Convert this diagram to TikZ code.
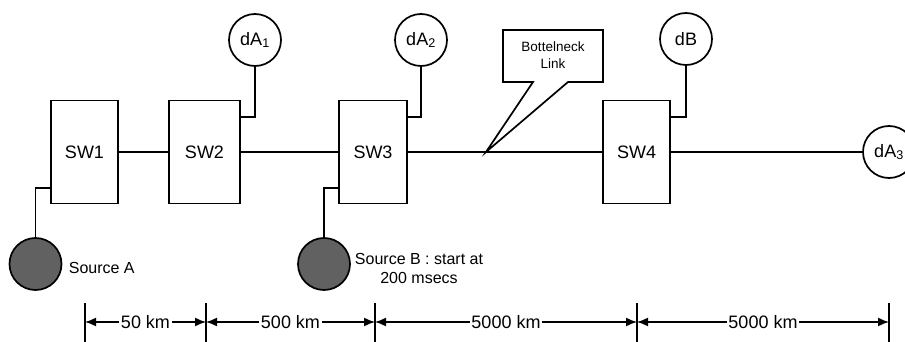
\documentclass[tikz,border=0pt]{standalone}
\usepackage{fontspec}
\setmainfont{Liberation Sans}
\usetikzlibrary{arrows.meta}
\begin{document}
\begin{tikzpicture}[x=1pt,y=-1pt,line width=1.7pt,
  swbox/.style={draw,minimum width=67pt,minimum height=103pt,inner sep=0pt,font=\fontsize{18}{20}\selectfont},
  dest/.style={draw,circle,minimum size=52pt,inner sep=0pt,font=\fontsize{18}{20}\selectfont},
  src/.style={draw,circle,minimum size=52pt,inner sep=0pt,fill=black!62},
  lbl/.style={font=\fontsize{16}{19}\selectfont,inner sep=0pt},
  dimlbl/.style={font=\fontsize{18}{20}\selectfont,fill=white,inner sep=1.5pt},
  dimtick/.style={line width=1.6pt},
  dimline/.style={line width=1.5pt,{Latex[length=11pt,width=9pt]}-{Latex[length=11pt,width=9pt]}}]
\useasboundingbox (0,0) rectangle (905,342);
% switches
\node[swbox] (SW1) at (84.5,152) {SW1};
\node[swbox,minimum width=71pt] (SW2) at (204.5,152) {SW2};
\node[swbox,minimum width=68pt] (SW3) at (373,152) {SW3};
\node[swbox] (SW4) at (636.5,152) {SW4};
% destinations
\node[dest] (dA1) at (255,40) {dA\textsubscript{1}};
\node[dest] (dA2) at (421,40) {dA\textsubscript{2}};
\node[dest] (dB) at (686,39) {dB};
\node[dest] (dA3) at (889,152) {dA\textsubscript{3}};
% sources
\node[src] (srcA) at (35.5,264) {};
\node[src] (srcB) at (324,264) {};
\node[lbl,anchor=west] (lblA) at (68,268) {Source A};
\node[lbl,align=center] (lblB) at (419,268) {Source B : start at\\200 msecs};
% main line
\draw (SW1.east) -- (SW2.west);
\draw (SW2.east) -- (SW3.west);
\draw (SW3.east) -- (SW4.west);
\draw (SW4.east) -- (dA3.west);
% branches
\draw ([yshift=35pt]SW2.east) -| (dA1.south);
\draw ([yshift=35pt]SW3.east) -| (dA2.south);
\draw ([yshift=35pt]SW4.east) -| (dB.south);
\draw ([yshift=-36pt]SW1.west) -| (srcA.north);
\draw ([yshift=-36pt]SW3.west) -| (srcB.north);
% callout
\coordinate (tip) at (486,152);
\draw[fill=white] (533,82) -- (503,82) -- (503,30) -- (603,30) -- (603,82) -- (568,82) -- (tip) -- cycle;
\node[align=center,font=\fontsize{13.5}{17}\selectfont,inner sep=0pt] (bn) at (553,55) {Bottelneck\\Link};
% dimensions
\coordinate (t1) at (85,322);
\coordinate (t2) at (206,322);
\coordinate (t3) at (375,322);
\coordinate (t4) at (637,322);
\coordinate (t5) at (889,322);
\foreach \t in {t1,t2,t3,t4,t5}
  \draw[dimtick] ([yshift=19pt]\t) -- ([yshift=-22pt]\t);
\draw[dimline] (t1) -- node[dimlbl] {50 km} (t2);
\draw[dimline] (t2) -- node[dimlbl] {500 km} (t3);
\draw[dimline] (t3) -- node[dimlbl] {5000 km} (t4);
\draw[dimline] (t4) -- node[dimlbl] {5000 km} (t5);
\end{tikzpicture}
\end{document}
